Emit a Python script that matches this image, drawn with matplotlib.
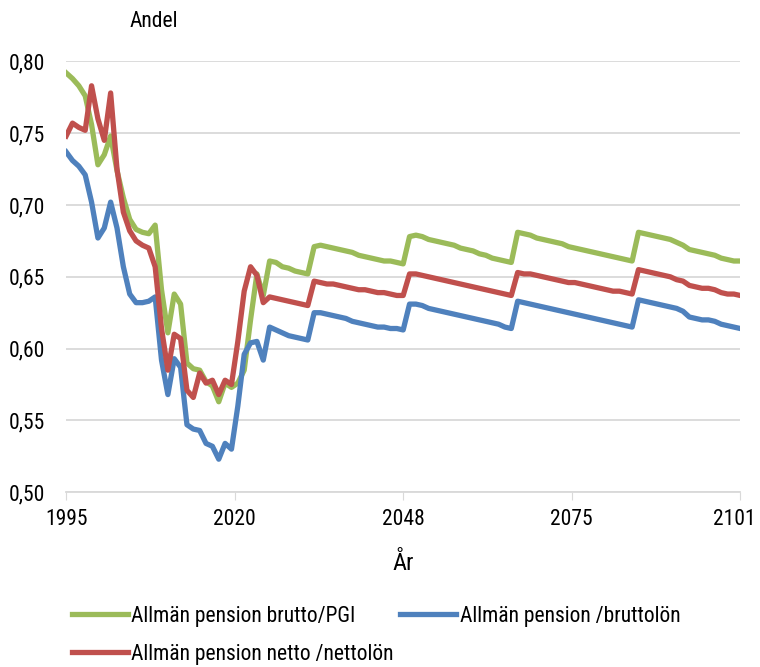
import numpy as np
import matplotlib.pyplot as plt
from matplotlib import font_manager
import matplotlib.transforms as mtransforms

# Smal (condensed) font if one is installed
names = {f.name for f in font_manager.fontManager.ttflist}
stretches = {(f.name, f.stretch) for f in font_manager.fontManager.ttflist}
family = 'DejaVu Sans'
stretch = 'normal'
for cand in ['Liberation Sans Narrow', 'Roboto Condensed', 'Open Sans Condensed',
             'Noto Sans Condensed', 'DejaVu Sans Condensed']:
    if cand in names:
        family = cand
        break
else:
    for name, st in stretches:
        if st in ('condensed', 'semi-condensed', 600) or st == 75 or st == 87:
            family, stretch = name, st
            break
plt.rcParams['font.family'] = [family, 'DejaVu Sans']
plt.rcParams['font.stretch'] = stretch

# Data
years = np.arange(1995, 2102)

brutto_pgi = [
    0.792, 0.788, 0.783, 0.776, 0.756, 0.728, 0.735, 0.748, 0.724, 0.705,
    0.690, 0.683, 0.681, 0.680, 0.686, 0.641, 0.611, 0.638, 0.631, 0.590,
    0.586, 0.585, 0.577, 0.574, 0.563, 0.576, 0.573, 0.576, 0.585, 0.620,
    0.652, 0.637, 0.661, 0.660, 0.657, 0.656, 0.654, 0.653, 0.652, 0.671,
    0.672, 0.671, 0.670, 0.669, 0.668, 0.667, 0.665, 0.664, 0.663, 0.662,
    0.661, 0.661, 0.660, 0.659, 0.678, 0.679, 0.678, 0.676, 0.675, 0.674,
    0.673, 0.672, 0.670, 0.669, 0.668, 0.666, 0.665, 0.663, 0.662, 0.661,
    0.660, 0.681, 0.680, 0.679, 0.677, 0.676, 0.675, 0.674, 0.673, 0.671,
    0.670, 0.669, 0.668, 0.667, 0.666, 0.665, 0.664, 0.663, 0.662, 0.661,
    0.681, 0.680, 0.679, 0.678, 0.677, 0.676, 0.674, 0.672, 0.669, 0.668,
    0.667, 0.666, 0.665, 0.663, 0.662, 0.661, 0.661,
]

brutto_lon = [
    0.737, 0.731, 0.727, 0.721, 0.702, 0.677, 0.684, 0.702, 0.684, 0.657,
    0.638, 0.632, 0.632, 0.633, 0.636, 0.592, 0.568, 0.593, 0.587, 0.547,
    0.544, 0.543, 0.534, 0.532, 0.523, 0.534, 0.530, 0.560, 0.596, 0.604,
    0.605, 0.592, 0.615, 0.613, 0.611, 0.609, 0.608, 0.607, 0.606, 0.625,
    0.625, 0.624, 0.623, 0.622, 0.621, 0.619, 0.618, 0.617, 0.616, 0.615,
    0.615, 0.614, 0.614, 0.613, 0.631, 0.631, 0.630, 0.628, 0.627, 0.626,
    0.625, 0.624, 0.623, 0.622, 0.621, 0.620, 0.619, 0.618, 0.617, 0.615,
    0.614, 0.633, 0.632, 0.631, 0.630, 0.629, 0.628, 0.627, 0.626, 0.625,
    0.624, 0.623, 0.622, 0.621, 0.620, 0.619, 0.618, 0.617, 0.616, 0.615,
    0.634, 0.633, 0.632, 0.631, 0.630, 0.629, 0.628, 0.626, 0.622, 0.621,
    0.620, 0.620, 0.619, 0.617, 0.616, 0.615, 0.614,
]

netto_lon = [
    0.748, 0.757, 0.754, 0.752, 0.783, 0.760, 0.745, 0.778, 0.725, 0.695,
    0.682, 0.675, 0.672, 0.670, 0.657, 0.614, 0.585, 0.610, 0.607, 0.571,
    0.566, 0.583, 0.576, 0.578, 0.568, 0.578, 0.575, 0.605, 0.640, 0.657,
    0.651, 0.632, 0.636, 0.635, 0.634, 0.633, 0.632, 0.631, 0.630, 0.647,
    0.646, 0.645, 0.645, 0.644, 0.643, 0.642, 0.641, 0.641, 0.640, 0.639,
    0.639, 0.638, 0.637, 0.637, 0.652, 0.652, 0.651, 0.650, 0.649, 0.648,
    0.647, 0.646, 0.645, 0.644, 0.643, 0.642, 0.641, 0.640, 0.639, 0.638,
    0.637, 0.653, 0.652, 0.652, 0.651, 0.650, 0.649, 0.648, 0.647, 0.646,
    0.646, 0.645, 0.644, 0.643, 0.642, 0.641, 0.640, 0.640, 0.639, 0.638,
    0.655, 0.654, 0.653, 0.652, 0.651, 0.650, 0.648, 0.647, 0.644, 0.643,
    0.642, 0.642, 0.641, 0.639, 0.638, 0.638, 0.637,
]

tick_labels = ['1995', '2020', '2048', '2075', '2101']
y_ticks = [0.50, 0.55, 0.60, 0.65, 0.70, 0.75, 0.80]

narrow = family != 'DejaVu Sans' or stretch != 'normal'
fs = 15.5 if narrow else 13
fs_leg = 15.5 if narrow else 12

fig = plt.figure(figsize=(7.6, 6.67), dpi=100)
ax = fig.add_axes([0.087, 0.262, 0.887, 0.646])

l_green, = ax.plot(years, brutto_pgi, color='#9BBB59', lw=3.8, solid_joinstyle='round',
                   label='Allmän pension brutto/PGI')
l_blue, = ax.plot(years, brutto_lon, color='#4F81BD', lw=3.8, solid_joinstyle='round',
                  label='Allmän pension /bruttolön')
l_red, = ax.plot(years, netto_lon, color='#C0504D', lw=3.8, solid_joinstyle='round',
                 label='Allmän pension netto /nettolön')

ax.set_xlim(1995, 2101)
ax.set_ylim(0.50, 0.80)
ax.set_xticks(np.linspace(1995, 2101, 5))
ax.set_xticklabels(tick_labels)
ax.set_yticks(y_ticks)
ax.set_yticklabels([f'{v:.2f}'.replace('.', ',') for v in y_ticks])
ax.tick_params(axis='y', length=0, labelsize=fs, pad=15)
ax.tick_params(axis='x', length=6, color='#d9d9d9', labelsize=fs, pad=6, direction='out')
ax.grid(axis='y', color='#d9d9d9', lw=1.3)
ax.set_axisbelow(True)
for s in ['left', 'right', 'top']:
    ax.spines[s].set_visible(False)
ax.spines['bottom'].set_color('#d9d9d9')
ax.spines['bottom'].set_linewidth(1.3)

# keep the last year label inside the picture
last = ax.get_xticklabels()[-1]
last.set_transform(last.get_transform() +
                   mtransforms.ScaledTranslation(-4 / 72, 0, fig.dpi_scale_trans))

ax.set_xlabel('År', fontsize=fs + 2, labelpad=16)
fig.text(0.203, 0.968, 'Andel', fontsize=fs, ha='center', va='center')

leg_kw = dict(loc='upper left', bbox_transform=fig.transFigure, frameon=False,
              fontsize=fs_leg, handlelength=2.6, handletextpad=0.15, borderaxespad=0)
fig.legend(handles=[l_green, l_blue], ncol=2, bbox_to_anchor=(0.083, 0.105),
           columnspacing=2.1, **leg_kw)
fig.legend(handles=[l_red], bbox_to_anchor=(0.083, 0.048), **leg_kw)

fig.savefig('out.png', dpi=100)
